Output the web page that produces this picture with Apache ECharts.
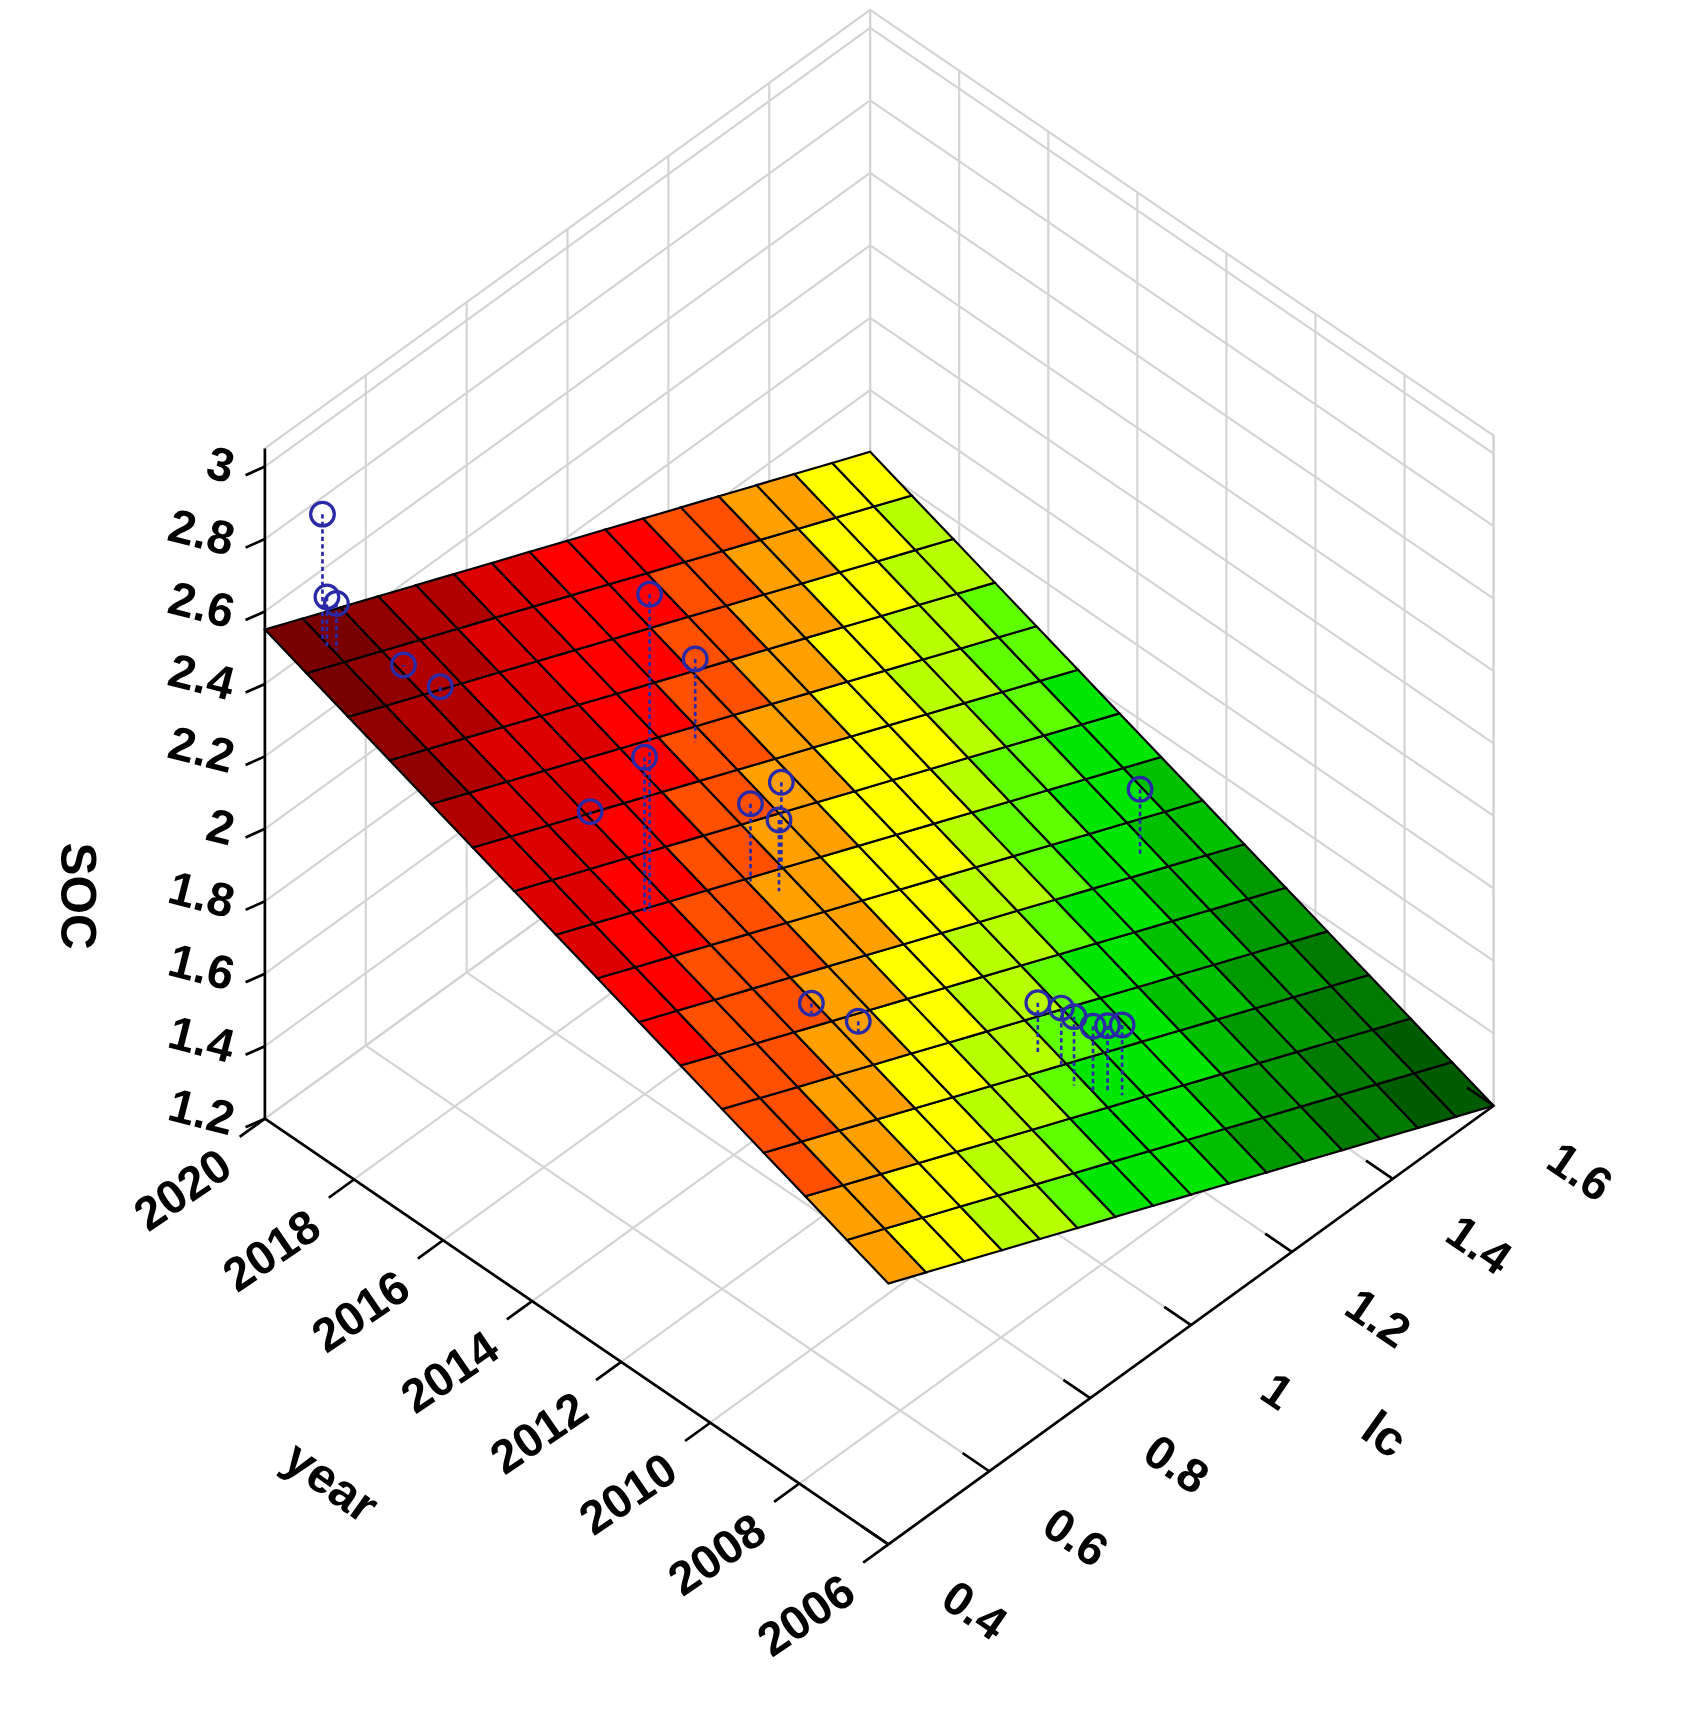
<!DOCTYPE html>
<html><head><meta charset="utf-8">
<script src="https://cdn.jsdelivr.net/npm/echarts@6/dist/echarts.min.js"></script>
<style>html,body{margin:0;background:#fff}#c{width:1692px;height:1720px}</style>
</head><body><div id="c"></div>
<script>
// ---- data ----
const yearTicks = [2006, 2008, 2010, 2012, 2014, 2016, 2018, 2020];
const lcTicks = [0.4, 0.6, 0.8, 1.0, 1.2, 1.4, 1.6];
const socTicks = [1.2, 1.4, 1.6, 1.8, 2.0, 2.2, 2.4, 2.6, 2.8, 3.0];
const socTickLabels = ['1.2','1.4','1.6','1.8','2','2.2','2.4','2.6','2.8','3'];
const yearTickLabels = ['2006','2008','2010','2012','2014','2016','2018','2020'];
const lcTickLabels = ['0.4','0.6','0.8','1','1.2','1.4','1.6'];
// fitted plane SOC = a + b*(year-2006) + c*(lc-0.4)
const planeCoef = [1.92, 0.045, -0.6];
const ptYear = [2019.5, 2019.4, 2019.3, 2018.7, 2018.1, 2015.3, 2013.4, 2013.4, 2016.0, 2013.4, 2013.5, 2013.1, 2010.9, 2010.3, 2011.9, 2009.1, 2008.8, 2008.4, 2008.2, 2008.1, 2008.0];
const ptLc   = [0.47, 0.47, 0.48, 0.56, 0.58, 0.63, 0.58, 0.57, 0.90, 0.78, 0.85, 0.81, 0.68, 0.72, 1.42, 0.97, 0.99, 0.98, 1.00, 1.02, 1.04];
const ptSoc  = [2.84, 2.62, 2.60, 2.40, 2.37, 2.21, 3.02, 2.58, 2.30, 2.24, 2.22, 2.19, 2.00, 1.96, 1.76, 1.86, 1.85, 1.87, 1.84, 1.83, 1.82];
// colour bands: lower edges (descending) and colours
const bandEdges  = [2.45, 2.38, 2.30, 2.20, 2.09, 1.99, 1.90, 1.80, 1.72, 1.65, 1.55, 1.48, 1.40, 1.32, -9];
const bandColors = ['#780000','#900000','#b00000','#dc0000','#ff0000','#ff5000','#ffa000','#ffff00','#b8ff00','#60ff00','#00e600','#00c000','#009a00','#007a00','#005c00'];

// ---- projection ----
const Y0=2006, Y1=2020, L0=0.4, L1=1.6, Z0=1.2, Z1=3.05;
function P(y,l,z){
  const yf=(y-Y0)/(Y1-Y0), lf=(l-L0)/(L1-L0);
  return [832-580*yf+563*lf, 1418-396*yf-408*lf-(z-Z0)*337];
}
function S(y,l){return planeCoef[0]+planeCoef[1]*(y-2006)+planeCoef[2]*(l-0.4);}
function colorFor(v){for(let k=0;k<bandEdges.length;k++){if(v>=bandEdges[k])return bandColors[k];}return bandColors[bandColors.length-1];}

function build(){
  const ch=[]; const grid='#d4d4d4';
  const poly=(pts,style)=>ch.push({type:'polygon',shape:{points:pts},style});
  const line=(a,b,style)=>ch.push({type:'line',shape:{x1:a[0],y1:a[1],x2:b[0],y2:b[1]},style});
  poly([P(Y1,L0,Z0),P(Y1,L1,Z0),P(Y1,L1,Z1),P(Y1,L0,Z1)],{fill:'#fff'});
  poly([P(Y1,L1,Z0),P(Y0,L1,Z0),P(Y0,L1,Z1),P(Y1,L1,Z1)],{fill:'#fff'});
  const gs={stroke:grid,lineWidth:2};
  socTicks.forEach(z=>{line(P(Y1,L0,z),P(Y1,L1,z),gs);line(P(Y1,L1,z),P(Y0,L1,z),gs);});
  lcTicks.forEach(l=>{line(P(Y1,l,Z0),P(Y1,l,Z1),gs);line(P(Y0,l,Z0),P(Y1,l,Z0),gs);});
  yearTicks.forEach(y=>{line(P(y,L1,Z0),P(y,L1,Z1),gs);line(P(y,L0,Z0),P(y,L1,Z0),gs);});
  line(P(Y1,L0,Z1),P(Y1,L1,Z1),gs);line(P(Y1,L1,Z1),P(Y0,L1,Z1),gs);line(P(Y0,L1,Z0),P(Y0,L1,Z1),gs);
  const ny=15,nl=16;
  for(let i=0;i<ny;i++)for(let j=0;j<nl;j++){
    const ya=Y0+(Y1-Y0)*i/ny, yb=Y0+(Y1-Y0)*(i+1)/ny, la=L0+(L1-L0)*j/nl, lb=L0+(L1-L0)*(j+1)/nl;
    const c=colorFor(S((ya+yb)/2,(la+lb)/2));
    poly([P(ya,la,S(ya,la)),P(yb,la,S(yb,la)),P(yb,lb,S(yb,lb)),P(ya,lb,S(ya,lb))],{fill:c,stroke:'#000',lineWidth:2});
  }
  for(let k=0;k<ptYear.length;k++){
    const p=P(ptYear[k],ptLc[k],ptSoc[k]), f=P(ptYear[k],ptLc[k],S(ptYear[k],ptLc[k]));
    line(p,f,{stroke:'#2a2aa8',lineWidth:2.5,lineDash:[4,3]});
  }
  for(let k=0;k<ptYear.length;k++){
    const p=P(ptYear[k],ptLc[k],ptSoc[k]);
    ch.push({type:'circle',shape:{cx:p[0],cy:p[1],r:11},style:{fill:'rgba(0,0,0,0)',stroke:'#2a2aa8',lineWidth:3}});
  }
  const ax={stroke:'#000',lineWidth:2.5};
  const font='bold 44px "Liberation Sans", Arial';
  line(P(Y0,L0,Z0),P(Y1,L0,Z0),ax);
  line(P(Y0,L0,Z0),P(Y0,L1,Z0),ax);
  line(P(Y1,L0,Z0),P(Y1,L0,Z1),ax);
  yearTicks.forEach((y,i)=>{
    const a=P(y,L0,Z0),b=P(y,L0-0.05,Z0);line(a,b,ax);
    const t=P(y,L0-0.16,Z0);
    ch.push({type:'text',x:t[0],y:t[1]+14,rotation:0.6,style:{text:yearTickLabels[i],font,fill:'#000',align:'center',verticalAlign:'middle'}});
  });
  lcTicks.forEach((l,i)=>{
    const a=P(Y0,l,Z0),b=P(Y0+0.6,l,Z0);line(a,b,ax);
    const t=P(Y0-1.9,l,Z0);
    ch.push({type:'text',x:t[0],y:t[1]+10,rotation:-0.6,style:{text:lcTickLabels[i],font,fill:'#000',align:'center',verticalAlign:'middle'}});
  });
  socTicks.forEach((z,i)=>{
    const a=P(Y1,L0,z);line(a,[a[0]-18,a[1]+8],ax);
    ch.push({type:'text',x:a[0]-30,y:a[1]+4,rotation:-0.25,style:{text:socTickLabels[i],font,fill:'#000',align:'right',verticalAlign:'middle'}});
  });
  const tf='bold 46px "Liberation Sans", Arial';
  ch.push({type:'text',x:75,y:815,rotation:-Math.PI/2,style:{text:'SOC',font:tf,fill:'#000',align:'center',verticalAlign:'middle'}});
  ch.push({type:'text',x:312,y:1362,rotation:-0.62,style:{text:'year',font:tf,fill:'#000',align:'center',verticalAlign:'middle'}});
  ch.push({type:'text',x:1292,y:1318,rotation:-0.62,style:{text:'lc',font:tf,fill:'#000',align:'center',verticalAlign:'middle'}});
  return ch;
}
const chart=echarts.init(document.getElementById('c'),null,{renderer:'canvas'});
chart.setOption({animation:false,backgroundColor:'#fff',
  series:[{type:'custom',coordinateSystem:'none',data:[0],
    renderItem:()=>({type:'group',x:-6,y:20,scaleX:1.075,scaleY:1.075,children:build()})}]});
</script></body></html>
